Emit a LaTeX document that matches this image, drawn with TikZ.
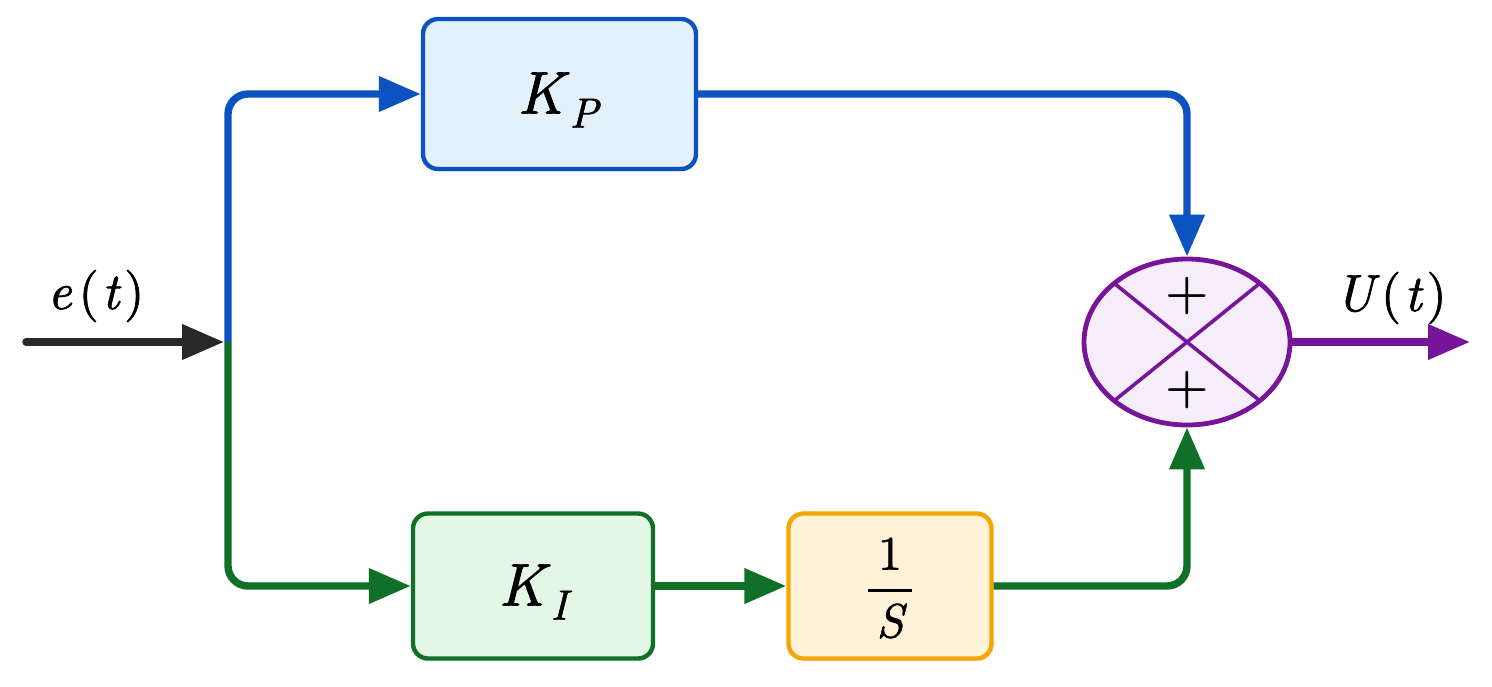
\documentclass[tikz,border=0pt]{standalone}
\usepackage{amsmath}
\usepackage{fontspec}
\newfontfamily\medit{lmroman10-italic.otf}[FakeBold=1.3]
\newfontfamily\medrm{lmroman10-regular.otf}[FakeBold=1.3]
\usetikzlibrary{arrows.meta,shapes.geometric,shadows}
\definecolor{cblue}{RGB}{12,82,192}
\definecolor{cgreen}{RGB}{16,112,40}
\definecolor{corange}{RGB}{245,166,0}
\definecolor{cpurple}{RGB}{118,20,154}
\definecolor{cblack}{RGB}{40,40,40}
\definecolor{fblue}{RGB}{227,241,252}
\definecolor{fgreen}{RGB}{228,246,228}
\definecolor{forange}{RGB}{255,242,216}
\definecolor{fpurple}{RGB}{245,238,250}
\newcommand{\gainlbl}[1]{{\medit K}\kern3pt\raisebox{-7pt}{\fontsize{21}{21}\selectfont\medit #1}}
\newcommand{\funlbl}[1]{{\medit #1}\kern3.5pt{\medrm(}\kern1.5pt{\medit t}\kern2.5pt{\medrm)}}
\begin{document}
\begin{tikzpicture}[x=0.5pt,y=-0.5pt,
  blk/.style={draw, line width=2.2pt, rounded corners=7.5pt, inner sep=0pt,
    drop shadow={opacity=0.12,shadow xshift=1pt,shadow yshift=-1.5pt}},
  conn/.style={line width=3.7pt, rounded corners=10pt, -{Triangle[length=21pt,width=17pt]}},
  lbl/.style={inner sep=0pt, font=\fontsize{26}{28}\selectfont},
  bigtxt/.style={inner sep=0pt, font=\fontsize{30}{32}\selectfont},
  plus/.style={inner sep=0pt, font=\fontsize{24}{24}\selectfont\boldmath},
]
\useasboundingbox (0,0) rectangle (1492,686);
\node[blk, draw=cblue, fill=fblue, minimum width=136.5pt, minimum height=75pt] (kp) at (559.5,94) {};
\node[bigtxt] (kptxt) at (558,100) {\gainlbl{P}};
\node[blk, draw=cgreen, fill=fgreen, minimum width=120pt, minimum height=72.5pt] (ki) at (533,586) {};
\node[bigtxt] (kitxt) at (533,592) {\gainlbl{I}};
\node[blk, draw=corange, fill=forange, minimum width=101.5pt, minimum height=72.5pt] (si) at (890,586) {};
\node[inner sep=0pt, font=\fontsize{24}{26}\selectfont] (sitxt) at (890,588)
  {$\genfrac{}{}{1.4pt}{0}{\makebox[22pt]{\medrm 1}}{\hbox{\medit S}}$};
\node[ellipse, draw=cpurple, fill=fpurple, line width=2.4pt, inner sep=0pt,
  minimum width=103pt, minimum height=83pt] (sum) at (1187,342) {};
\draw[cpurple, line width=1.8pt] (1114.2,283.3) -- (1259.8,400.7);
\draw[cpurple, line width=1.8pt] (1259.8,283.3) -- (1114.2,400.7);
\node[plus] (p1) at (1187,296) {$+$};
\node[plus] (p2) at (1187,390) {$+$};
\node[lbl] (et) at (96,296) {\funlbl{e}};
\node[lbl] (ut) at (1391,298) {\funlbl{U}};
\coordinate (in) at (26,342);
\coordinate (j) at (228,342);
\coordinate (out) at (1470,342);
\draw[conn, cblack, line cap=round, shorten >=2pt] (in) -- (j);
\draw[conn, cblue] (j) |- (kp.west);
\draw[conn, cgreen] (j) |- (ki.west);
\draw[conn, cgreen] (ki.east) -- (si.west);
\draw[conn, cgreen] (si.east) -| (sum.south);
\draw[conn, cblue] (kp.east) -| (sum.north);
\draw[conn, cpurple] (sum.east) -- (out);
\end{tikzpicture}
\end{document}
